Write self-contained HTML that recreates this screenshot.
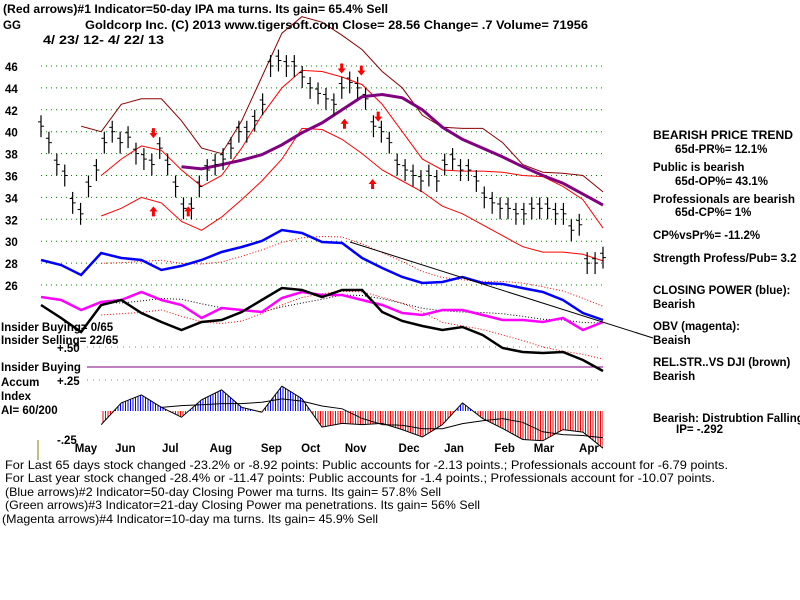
<!DOCTYPE html>
<html><head><meta charset="utf-8"><style>
html,body{margin:0;padding:0;background:#fff;width:800px;height:600px;overflow:hidden}
svg{display:block}
text{font-family:"Liberation Sans",sans-serif;fill:#000}
.b{font-weight:bold;font-size:11.5px}
.n{font-size:12px}
</style></head><body>
<svg id="chart" width="800" height="600" viewBox="0 0 800 600" xmlns="http://www.w3.org/2000/svg">
<defs>
<pattern id="hb" width="2.5" height="4" patternUnits="userSpaceOnUse"><rect width="1" height="4" fill="#0000ff"/></pattern>
<pattern id="hr" width="2.5" height="4" patternUnits="userSpaceOnUse"><rect width="1" height="4" fill="#ff0000"/></pattern>
<clipPath id="cAbove"><rect x="0" y="0" width="800" height="411"/></clipPath>
<clipPath id="cBelow"><rect x="0" y="411" width="800" height="100"/></clipPath>
</defs>
<g id="grid"></g>
<g id="marks"></g>
<g>
<text class="b" x="3" y="13" textLength="385" lengthAdjust="spacingAndGlyphs">(Red arrows)#1 Indicator=50-day IPA ma turns. Its gain= 65.4% Sell</text>
<text class="b" x="3" y="29">GG</text>
<text class="b" x="85" y="29" textLength="503" lengthAdjust="spacingAndGlyphs">Goldcorp Inc.  (C) 2013 www.tigersoft.com    Close=  28.56  Change= .7 Volume= 71956</text>
<text class="b" x="43" y="44" textLength="121" lengthAdjust="spacingAndGlyphs">4/ 23/ 12- 4/ 22/ 13</text>
</g>
<g>
<text class="b" x="653" y="139" textLength="140" lengthAdjust="spacingAndGlyphs">BEARISH PRICE TREND</text>
<text class="b" x="675" y="153">65d-PR%= 12.1%</text>
<text class="b" x="653" y="171">Public is bearish</text>
<text class="b" x="675" y="185">65d-OP%= 43.1%</text>
<text class="b" x="653" y="203" textLength="142" lengthAdjust="spacingAndGlyphs">Professionals are bearish</text>
<text class="b" x="675" y="216">65d-CP%= 1%</text>
<text class="b" x="653" y="239">CP%vsPr%= -11.2%</text>
<text class="b" x="653" y="262">Strength Profess/Pub= 3.2</text>
<text class="b" x="653" y="294">CLOSING POWER (blue):</text>
<text class="b" x="653" y="308">Bearish</text>
<text class="b" x="653" y="330">OBV (magenta):</text>
<text class="b" x="653" y="344">Beaish</text>
<text class="b" x="653" y="366">REL.STR..VS DJI (brown)</text>
<text class="b" x="653" y="380">Bearish</text>
<text class="b" x="653" y="422">Bearish: Distrubtion Falling</text>
<text class="b" x="676" y="433">IP= -.292</text>
</g>
<g>
<text class="b" x="1" y="331">Insider Buying= 0/65</text>
<text class="b" x="1" y="344">Insider Selling= 22/65</text>
<text class="b" x="57" y="352">+.50</text>
<text class="b" x="1" y="371">Insider Buying</text>
<text class="b" x="1" y="386">Accum</text>
<text class="b" x="57" y="385">+.25</text>
<text class="b" x="1" y="400">Index</text>
<text class="b" x="1" y="414">AI= 60/200</text>
<text class="b" x="57" y="444">-.25</text>
</g>
<g>
<text class="n" x="5" y="469" textLength="723" lengthAdjust="spacingAndGlyphs">For Last 65 days stock changed -23.2% or -8.92 points:  Public accounts for -2.13 points.;  Professionals account for -6.79 points.</text>
<text class="n" x="5" y="482" textLength="710" lengthAdjust="spacingAndGlyphs">For Last year stock changed -28.4% or -11.47 points:  Public accounts for -1.4 points.;  Professionals account for -10.07 points.</text>
<text class="n" x="5" y="496" textLength="436" lengthAdjust="spacingAndGlyphs">(Blue arrows)#2 Indicator=50-day Closing Power ma turns. Its gain= 57.8% Sell</text>
<text class="n" x="5" y="509" textLength="475" lengthAdjust="spacingAndGlyphs">(Green arrows)#3 Indicator=21-day Closing Power ma penetrations. Its gain= 56% Sell</text>
<text class="n" x="2" y="523" textLength="376" lengthAdjust="spacingAndGlyphs">(Magenta arrows)#4 Indicator=10-day ma turns. Its gain= 45.9% Sell</text>
</g>
</svg>
<script>
const priceTicks=[46,44,42,40,38,36,34,32,30,28,26];
const months=["May","Jun","Jul","Aug","Sep","Oct","Nov","Dec","Jan","Feb","Mar","Apr"];
const monthPos=[0.08,0.15,0.23,0.32,0.41,0.48,0.56,0.655,0.735,0.825,0.895,0.975];
const closes=[40.5,39,37,36,33.5,32.5,35,36.5,39,40,39,39.5,38,37.5,37,38.5,37,35,33,33,35,36.5,37,37.5,38.5,40,40,41,42.5,46,46.5,46,46,45,44,43.5,43,42.5,44,44.5,44,43,40.5,40,39,37,36.5,36,35.5,36,35.5,37,37.5,36.5,36.5,35.5,34,33.5,33,33,32.5,32.5,33,33,33,32.5,32.5,31,31.5,28,28,28.5];
const N=null;
const upperOuter=[N,N,40.5,40,42.5,43,43,41,38.5,38,41,45,49,50.5,50,48.8,47.5,45.5,44,41.5,40.4,40.3,40.3,39,37,36.3,36.2,36,34.5];
const upperBand=[N,N,N,36,37.5,38.7,38.3,36.5,35,36,38.5,41.5,44,45.6,45.5,45,44.3,42.5,40,37.5,36.5,36.4,36.4,36.3,36,35.9,35,33.8,31.2];
const lowerBand=[N,N,N,32.3,33,34,33.5,31.8,31,32.2,33.8,35.5,37.5,40.3,40.2,39.3,38,36.5,35.5,34.5,33.2,32.5,31.5,30.5,29.5,29,29,28.8,28.2];
const ma65=[N,N,N,N,N,N,N,36.8,36.6,37,37.4,37.9,38.8,39.9,40.8,42,43.2,43.4,43.1,42,40.4,39.3,38.5,37.7,36.8,36,35.3,34.3,33.3];
const closingPower=[28.28,27.83,26.91,28.92,28.47,28.28,27.37,27.74,28.28,29.01,29.47,30.02,31.02,30.75,29.93,29.84,28.47,27.55,26.73,26.18,26.27,26.73,26.18,26.09,25.72,25.36,24.63,23.44,22.80];
const obv=[24.90,24.63,23.72,24.45,24.63,25.36,24.63,24.17,22.99,23.90,23.72,23.53,24.81,25.36,25.09,25.09,24.63,24.17,23.44,23.26,23.72,23.72,23.26,22.80,22.80,22.62,22.99,21.89,22.62];
const relStr=[24.17,22.99,21.71,24.17,24.63,23.44,22.62,21.89,22.62,22.80,23.53,24.63,25.73,25.54,24.90,25.54,25.54,23.53,22.71,22.26,21.89,22.16,21.43,20.25,19.88,19.79,19.88,19.15,18.15];
const accumIndex=[N,N,N,-0.11,0.065,0.13,0.03,-0.05,0.09,0.17,0.03,-0.01,0.2,0.1,-0.13,-0.10,-0.11,-0.10,-0.15,-0.21,-0.11,0.065,-0.06,-0.14,-0.23,-0.24,-0.15,-0.17,-0.30];
const downArrows=[[0.2,39.6],[0.535,45.5],[0.57,45.3],[0.6,41.1]];
const upArrows=[[0.2,33],[0.262,33],[0.54,41],[0.59,35.5]];

const NS="http://www.w3.org/2000/svg";
const X0=41,X1=603;
const xf=t=>X0+t*(X1-X0);
const yP=v=>66+(46-v)*10.95;
const AIB=411,yA=v=>AIB-v*124;
const gx=i=>xf(i/28);
function el(tag,attrs,parent){const e=document.createElementNS(NS,tag);for(const k in attrs)e.setAttribute(k,attrs[k]);parent.appendChild(e);return e;}
const grid=document.getElementById('grid'),marks=document.getElementById('marks');

priceTicks.forEach(v=>{
  const l=el('line',{x1:X0,x2:X1,y1:yP(v),y2:yP(v),stroke:'#008000','stroke-dasharray':'1 4'},grid);
  
  
  const t=el('text',{x:5,y:yP(v)+5,class:'b'},grid);t.textContent=v;
  
  
});
[[347],[380]].forEach(([y])=>{const l=el('line',{x1:87,x2:603,y1:y,y2:y,stroke:'#808080','stroke-dasharray':'1 5'},grid);
  
  });
const ib=el('line',{x1:87,x2:603,y1:367,y2:367,stroke:'#800080'},grid);


months.forEach((m,i)=>{const t=el('text',{x:xf(monthPos[i]),y:452,class:'b','text-anchor':'middle'},grid);t.textContent=m;
  
  });
const ol=el('line',{x1:38,x2:38,y1:440,y2:460,stroke:'#808000'},grid);



function pathFrom(arr,yfun,xfun){let d='',pen=false;arr.forEach((v,i)=>{if(v==null){pen=false;return;}d+=(pen?'L':'M')+xfun(i).toFixed(1)+' '+yfun(v).toFixed(1)+' ';pen=true;});return d;}
function ma(arr,w){return arr.map((v,i)=>{if(v==null||i<w-1)return null;let s=0;for(let k=i-w+1;k<=i;k++){if(arr[k]==null)return null;s+=arr[k];}return s/w;});}
function line(arr,yfun,xfun,attrs,name){const p=el('path',Object.assign({d:pathFrom(arr,yfun,xfun),fill:'none'},attrs),marks);return p;}

line(upperOuter,yP,gx,{stroke:'#8b0000','stroke-width':1},'upper-outer-band');
line(upperBand,yP,gx,{stroke:'#ff0000','stroke-width':1},'upper-band');
line(lowerBand,yP,gx,{stroke:'#ff0000','stroke-width':1},'lower-band');
line(ma65,yP,gx,{stroke:'#800080','stroke-width':3},'ma-65');

const px=i=>X0+i*(X1-X0)/(closes.length-1);
closes.forEach((c,i)=>{
  const g=el('g',{},marks);
  
  
  el('line',{x1:px(i),x2:px(i),y1:yP(c+1),y2:yP(c-1),stroke:'#000','stroke-width':1.2},g);
  el('line',{x1:px(i),x2:px(i)+3,y1:yP(c),y2:yP(c),stroke:'#000'},g);
  el('line',{x1:px(i)-3,x2:px(i),y1:yP(c+0.4),y2:yP(c+0.4),stroke:'#000'},g);
});

line(ma(closingPower,4),yP,gx,{stroke:'#ff0000','stroke-dasharray':'1 2'},'closing-power-ma');
line(ma(obv,4),yP,gx,{stroke:'#000','stroke-dasharray':'1 2'},'obv-ma');
line(ma(relStr,4),yP,gx,{stroke:'#ff0000','stroke-dasharray':'1 2'},'relstr-ma');
line(closingPower,yP,gx,{stroke:'#0000ff','stroke-width':2.5},'closing-power-line');
line(obv,yP,gx,{stroke:'#ff00ff','stroke-width':2.5},'obv-line');
line(relStr,yP,gx,{stroke:'#000','stroke-width':2.5},'relative-strength-line');
const tl=el('line',{x1:350,y1:242,x2:653,y2:338,stroke:'#000'},marks);



let first=accumIndex.findIndex(v=>v!=null),last=accumIndex.length-1;
let d='M'+gx(first)+' '+AIB+' ';
for(let i=first;i<=last;i++)d+='L'+gx(i).toFixed(1)+' '+yA(accumIndex[i]).toFixed(1)+' ';
d+='L'+gx(last)+' '+AIB+' Z';
const aiUp=el('path',{d:d,fill:'url(#hb)','clip-path':'url(#cAbove)'},marks);


const aiDn=el('path',{d:d,fill:'url(#hr)','clip-path':'url(#cBelow)'},marks);


line(accumIndex,yA,gx,{stroke:'#000'},'ai-outline');
line(ma(accumIndex,4),yA,gx,{stroke:'#000'},'ai-ma');

downArrows.forEach(([t,v])=>{const a=el('path',{d:`M${xf(t)-1.5} ${yP(v)-8}h3v5h2.5l-4 5l-4-5h2.5z`,fill:'#ff0000'},marks);
  
  });
upArrows.forEach(([t,v])=>{const a=el('path',{d:`M${xf(t)-1.5} ${yP(v)+8}h3v-5h2.5l-4-5l-4 5h2.5z`,fill:'#ff0000'},marks);
  
  });
</script>
</body></html>
